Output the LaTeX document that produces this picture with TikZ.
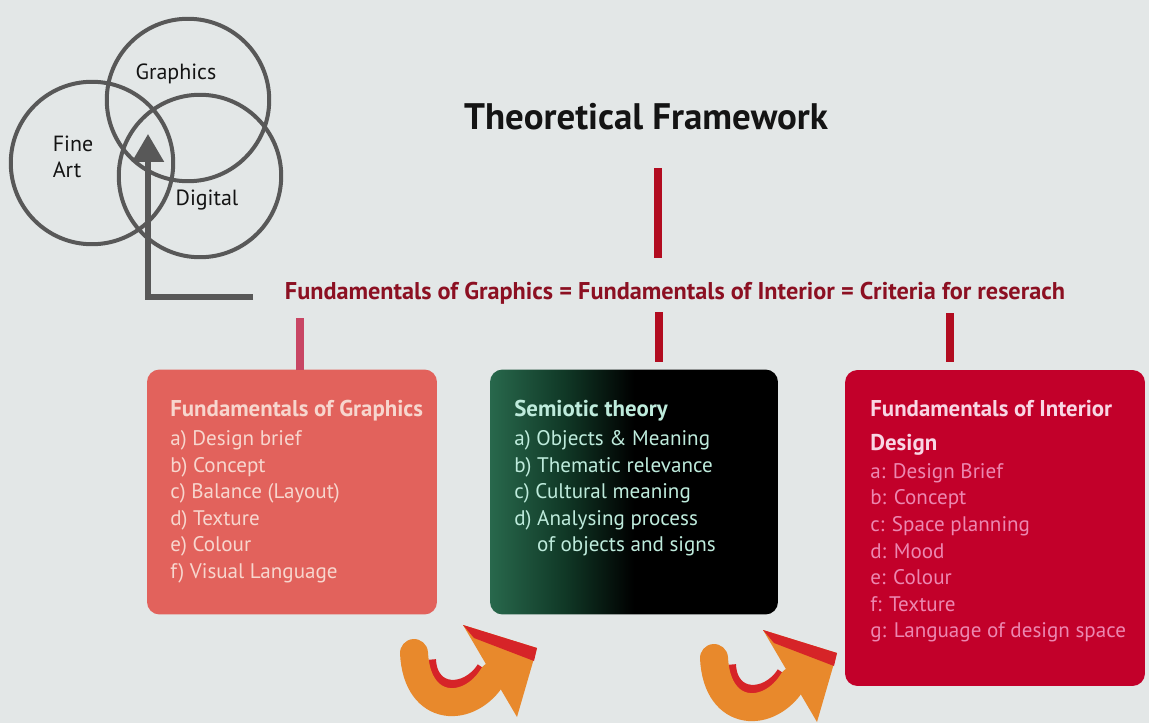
\documentclass[tikz,border=0pt]{standalone}
\usepackage{fontspec}
\setmainfont{PT Sans}
\newcommand{\cardheadfont}{\bfseries\fontsize{13}{15}\selectfont}
\usetikzlibrary{positioning,arrows.meta}

\definecolor{paper}{RGB}{227,231,231}
\definecolor{ink}{RGB}{20,20,20}
\definecolor{ringgray}{RGB}{88,88,88}
\definecolor{critred}{RGB}{140,16,34}
\definecolor{barred}{RGB}{178,12,32}
\definecolor{barpink}{RGB}{200,70,100}
\definecolor{gfxfill}{RGB}{226,98,92}
\definecolor{gfxtext}{RGB}{247,214,206}
\definecolor{semgreen}{RGB}{40,104,76}
\definecolor{semmid}{RGB}{16,56,38}
\definecolor{semtext}{RGB}{190,235,220}
\definecolor{intfill}{RGB}{194,0,42}
\definecolor{inthead}{RGB}{248,214,228}
\definecolor{intitem}{RGB}{236,135,176}
\definecolor{curlorange}{RGB}{232,137,44}
\definecolor{curlred}{RGB}{214,36,40}

\pgfdeclarehorizontalshading{semioshade}{100bp}{color(0bp)=(semgreen); color(25bp)=(semgreen); color(38bp)=(semmid); color(50bp)=(black); color(100bp)=(black)}

\tikzset{
  card/.style={rectangle, rounded corners=0.25cm, inner sep=0pt, outer sep=0pt},
  cardtext/.style={anchor=north west, inner sep=0pt, align=left, font=\fontsize{12}{15.1}\selectfont},
  bar/.style={line width=0.16cm},
  ring/.style={circle, draw=ringgray, line width=0.08cm, inner sep=0pt, minimum size=3.25cm},
  venntext/.style={font=\fontsize{12.5}{15}\selectfont, text=ink, align=left, inner sep=0pt},
  curl/.pic={
    \draw[curlred, line width=0.4cm] (426,660) .. controls (428,698) and (468,698) .. (486,670);
    \draw[curlorange, line width=0.56cm, line cap=round] (414,653) .. controls (417,714) and (470,714) .. (493,676);
    \fill[curlorange] (463,625) -- (537,648) -- (517,717) -- cycle;
    \fill[curlred] (463,625) -- (537,648) -- (534,661) -- (474,638) -- cycle;
  }
}

\begin{document}
\begin{tikzpicture}[x=0.02cm, y=-0.02cm]
\useasboundingbox[fill=paper] (0,0) rectangle (1149,723);

% venn of the three fields
\node[ring] (graphics) at (188,100) {};
\node[ring] (fineart) at (92,163) {};
\node[ring] (digital) at (200,176) {};
\node[venntext] (graphicslabel) at (176,74) {Graphics};
\node[venntext] (fineartlabel) at (73,157) {Fine\\Art};
\node[venntext] (digitallabel) at (207,200) {Digital};
\coordinate (elbow) at (253,297);
\coordinate (tip) at (148,134);
\draw[ringgray, line width=0.11cm, -{Triangle[width=0.62cm, length=0.56cm]}] (elbow) -| (tip);

% headings
\node[font=\bfseries\fontsize{21}{24}\selectfont, text=ink] (title) at (646,117) {Theoretical Framework};
\node[font=\bfseries\fontsize{13.8}{16}\selectfont, text=critred] (crit) at (675,293) {Fundamentals of Graphics = Fundamentals of Interior = Criteria for reserach};

% the three cards
\node[card, fill=gfxfill, minimum width=5.8cm, minimum height=4.9cm] (gfx) at (292,492) {};
\node[card, shade, shading=semioshade, minimum width=5.76cm, minimum height=4.9cm] (semio) at (634,492) {};
\node[card, fill=intfill, minimum width=6cm, minimum height=6.32cm] (interior) at (995,528) {};

\node[cardtext, text=gfxtext] (gfxlist) at (170,400) {{\cardheadfont Fundamentals of Graphics}\\[1.3pt]
  a) Design brief\\ b) Concept\\ c) Balance (Layout)\\ d) Texture\\ e) Colour\\ f) Visual Language};
\node[cardtext, text=semtext] (semiolist) at (514,400) {{\cardheadfont Semiotic theory}\\[1.3pt]
  a) Objects \& Meaning\\ b) Thematic relevance\\ c) Cultural meaning\\ d) Analysing process\\ \hphantom{d) }of objects and signs};
\node[cardtext, text=intitem] (interiorlist) at (870,400) {{\color{inthead}\cardheadfont Fundamentals of Interior}\\[4.2pt]
  {\color{inthead}\cardheadfont Design}\\[0.8pt]
  a: Design Brief\\ b: Concept\\ c: Space planning\\ d: Mood\\ e: Colour\\ f: Texture\\ g: Language of design space};

% connecting bars
\coordinate (topbar1) at (658,168);
\coordinate (topbar2) at (658,258);
\coordinate (gfxbar) at (300,318);
\coordinate (semiobar) at (659,312);
\coordinate (semiobarend) at (659,362);
\coordinate (interiorbar) at (950,313);
\coordinate (interiorbarend) at (950,362);
\draw[bar, barred] (topbar1) -- (topbar2);
\draw[bar, barpink] (gfxbar) -- (gfxbar |- gfx.north);
\draw[bar, barred] (semiobar) -- (semiobarend);
\draw[bar, barred] (interiorbar) -- (interiorbarend);

% curved arrows
\pic at (0,0) {curl};
\pic at (300,5) {curl};
\end{tikzpicture}
\end{document}
